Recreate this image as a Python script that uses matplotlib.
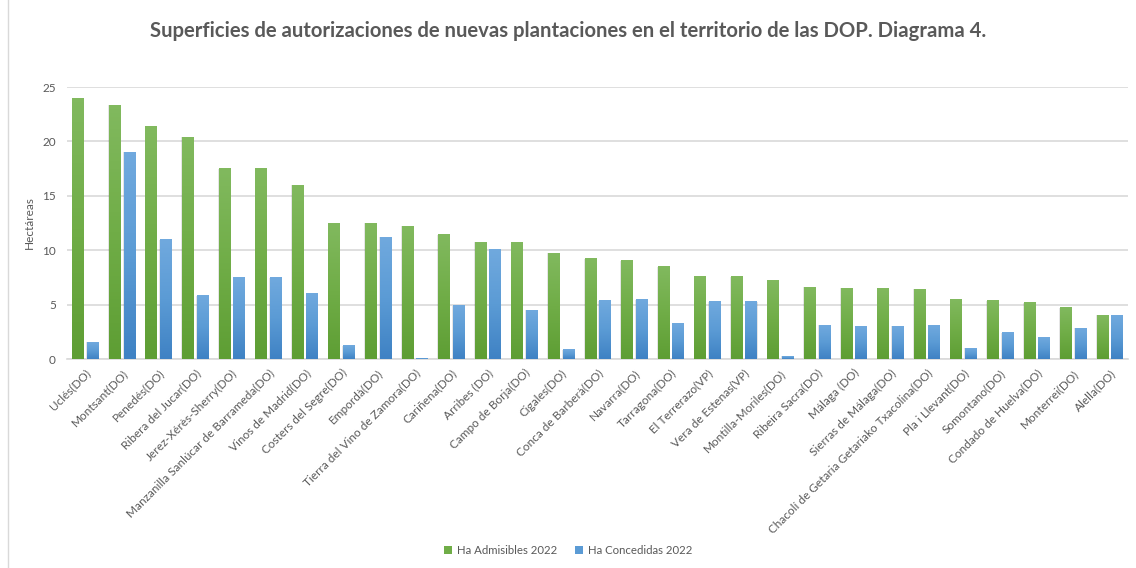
import matplotlib
matplotlib.use("Agg")
import matplotlib.pyplot as plt
import numpy as np
from matplotlib.colors import LinearSegmentedColormap
from matplotlib.patches import Patch
from matplotlib.lines import Line2D

categories = ["Uclés(DO)", "Montsant(DO)", "Penedés(DO)", "Ribera del Jucar(DO)",
              "Jerez-Xérès-Sherry(DO)", "Manzanilla Sanlúcar de Barrameda(DO)",
              "Vinos de Madrid(DO)", "Costers del Segre(DO)", "Empordà(DO)",
              "Tierra del Vino de Zamora(DO)", "Cariñena(DO)", "Arribes (DO)",
              "Campo de Borja(DO)", "Cigales(DO)", "Conca de Barberà(DO)",
              "Navarra(DO)", "Tarragona(DO)", "El Terrerazo(VP)", "Vera de Estenas(VP)",
              "Montilla-Moriles(DO)", "Ribeira Sacra(DO)", "Málaga (DO)",
              "Sierras de Málaga(DO)", "Chacolí de Getaria Getariako Txacolina(DO)",
              "Pla i Llevant(DO)", "Somontano(DO)", "Condado de Huelva(DO)",
              "Monterrei(DO)", "Alella(DO)"]

admisibles = [23.9, 23.3, 21.35, 20.4, 17.5, 17.5, 15.95, 12.47, 12.47, 12.2,
              11.4, 10.75, 10.75, 9.7, 9.2, 9.04, 8.48, 7.54, 7.54, 7.26,
              6.59, 6.5, 6.5, 6.4, 5.45, 5.36, 5.18, 4.69, 4.04]
concedidas = [1.55, 19.0, 10.95, 5.8, 7.45, 7.45, 6.0, 1.2, 11.2, 0.03,
              4.9, 10.1, 4.5, 0.83, 5.36, 5.45, 3.28, 5.27, 5.27, 0.24,
              3.1, 3.0, 3.0, 3.1, 1.0, 2.42, 1.96, 2.82, 4.04]

series_names = ["Ha Admisibles 2022", "Ha Concedidas 2022"]
yticks = [0, 5, 10, 15, 20, 25]

title = "Superficies de autorizaciones de nuevas plantaciones en el territorio de las DOP. Diagrama 4."
ylabel = "Hectáreas"

plt.rcParams['font.family'] = ['Lato', 'DejaVu Sans']
text_color = "#595959"

fig = plt.figure(figsize=(11.36, 5.68), dpi=100)
fig.patch.set_facecolor("white")
ax = fig.add_axes([67/1136, 1 - 359/568, (1128-67)/1136, (359-87)/568])

x = np.arange(len(categories))
w = 0.31
off = 0.2

green_cmap = LinearSegmentedColormap.from_list("g", ["#5E9E34", "#70AD47", "#81B95E"])
blue_cmap = LinearSegmentedColormap.from_list("b", ["#3F82C4", "#5B9BD5", "#70A9DE"])
grad = np.linspace(0, 1, 64).reshape(-1, 1)

def draw_bars(xs, vals, cmap):
    bars = ax.bar(xs, vals, width=w, color="none", edgecolor="none", zorder=3)
    for b in bars:
        x0, y0 = b.get_x(), b.get_y()
        bw, bh = b.get_width(), b.get_height()
        if bh <= 0:
            continue
        ax.bar(x0 + bw / 2, bh, width=bw * 1.12, bottom=0, color="#000000",
               alpha=0.10, zorder=2.5, edgecolor="none")
        ax.imshow(grad, extent=[x0, x0 + bw, y0, y0 + bh], origin="lower",
                  cmap=cmap, aspect="auto", zorder=3)
    return bars

draw_bars(x - off, admisibles, green_cmap)
draw_bars(x + off, concedidas, blue_cmap)

ax.set_xlim(-0.5, len(categories) - 0.5)
ax.set_ylim(0, 25)
ax.set_yticks(yticks)
ax.set_yticklabels([str(v) for v in yticks], fontsize=8.5, color=text_color)
ax.yaxis.grid(True, color="#D9D9D9", linewidth=1.2, zorder=0)
ax.set_axisbelow(True)
for s in ["top", "right", "left"]:
    ax.spines[s].set_visible(False)
ax.spines["bottom"].set_color("#D9D9D9")
ax.spines["bottom"].set_linewidth(1.2)
ax.tick_params(axis="both", length=0, pad=8)
ax.set_xticks(x)
ax.set_xticklabels(categories, rotation=45, ha="right", va="top",
                   rotation_mode="anchor", fontsize=8.5, color=text_color)
ax.tick_params(axis="x", pad=6)
ax.set_ylabel(ylabel, fontsize=8.5, color=text_color, labelpad=5)

fig.text(0.5, 1 - 31/568, title, ha="center", va="center", fontsize=14.6,
         fontweight="bold", color=text_color)

handles = [Patch(facecolor="#70AD47"), Patch(facecolor="#5B9BD5")]
fig.legend(handles, series_names, loc="center", bbox_to_anchor=(0.5, 1 - 550/568),
           ncol=2, frameon=False, fontsize=8.2, labelcolor=text_color,
           handlelength=0.7, handleheight=0.7, columnspacing=1.6, handletextpad=0.4)

# chart area left border
fig.add_artist(Line2D([7.5/1136, 7.5/1136], [0, 1], transform=fig.transFigure,
                      color="#D9D9D9", linewidth=1))

fig.savefig("out.png", dpi=100)
